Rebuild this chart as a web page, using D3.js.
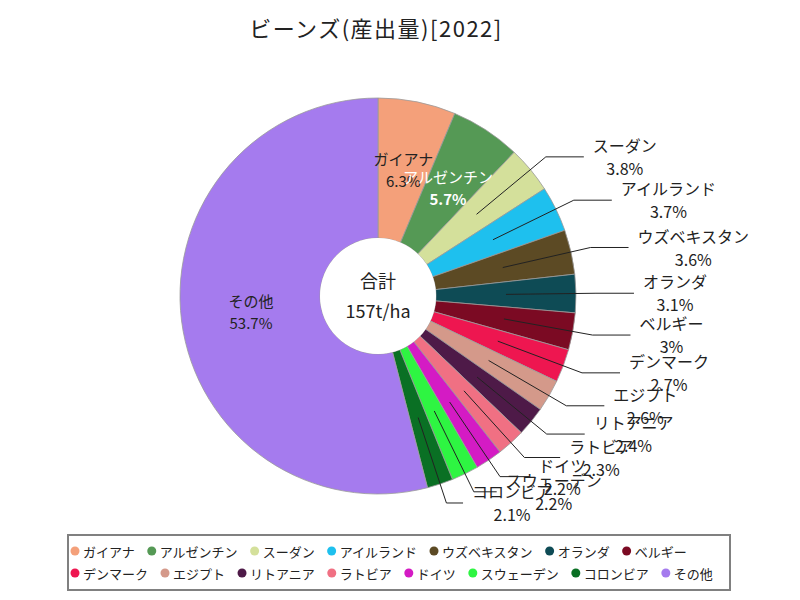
<!DOCTYPE html>
<html><head><meta charset="utf-8">
<script src="https://cdn.jsdelivr.net/npm/d3@7"></script>
<style>body{margin:0;background:#fff} svg{display:block}</style>
</head><body>
<svg id="chart" width="800" height="600"></svg>
<script>
const titleText = "ビーンズ(産出量)[2022]";
const categories = ["ガイアナ","アルゼンチン","スーダン","アイルランド","ウズベキスタン","オランダ","ベルギー","デンマーク","エジプト","リトアニア","ラトビア","ドイツ","スウェーデン","コロンビア","その他"];
const shares = [6.3,5.7,3.8,3.7,3.6,3.1,3,2.7,2.6,2.4,2.3,2.2,2.2,2.1,53.7];
const colors = ["#F4A07A","#559955","#D4E09B","#1EC0EE","#5C4A24","#0E4B55","#7B0A23","#EE1650","#D4998A","#4E1A48","#F07083","#D41BC4","#2EF542","#0A7024","#A57BEE"];
const insideLabels = ["ガイアナ","アルゼンチン","その他"];
const totalLabel = "合計";
const totalValue = "157t/ha";
const legendRowCounts = [7, 8];

const FONT = "'Noto Sans CJK JP','Noto Sans',sans-serif";
const svg = d3.select("#chart");
const W = 800, H = 600;
const cx = 378, cy = 296, R = 198, R0 = 58;

svg.append("rect").attr("width", W).attr("height", H).attr("fill", "#fff");

svg.append("text").attr("x", 376).attr("y", 27)
  .attr("text-anchor", "middle").attr("dominant-baseline", "central")
  .attr("font-family", FONT).attr("font-size", 22).attr("letter-spacing", 1.5)
  .attr("fill", "#222").text(titleText);

const data = categories.map((c, i) => ({name: c, value: shares[i], color: colors[i]}));
const pie = d3.pie().value(d => d.value).sort(null).startAngle(0).endAngle(2 * Math.PI);
const arcs = pie(data);
const arc = d3.arc().innerRadius(R0).outerRadius(R);

const g = svg.append("g").attr("transform", `translate(${cx},${cy})`);
g.selectAll("path.slice").data(arcs).enter().append("path")
  .attr("class", "slice").attr("d", arc)
  .attr("fill", d => d.data.color)
  .attr("stroke", "#9a9a9a").attr("stroke-width", 0.8);

const fmt = v => String(v) + "%";

// outer labels
const outer = arcs.filter(d => !insideLabels.includes(d.data.name));
const lineG = g.append("g");
const textG = g.append("g");
outer.forEach(d => {
  const a = (d.startAngle + d.endAngle) / 2;
  const s = arc.centroid(d);
  const rE = R + 20;
  const e = [rE * Math.sin(a), -rE * Math.cos(a)];
  const deg = a * 180 / Math.PI;
  const dir = Math.sin(a) >= 0 ? 1 : -1;
  const L2 = deg > 135 && deg < 225 ? 38 - (Math.abs(deg - 135)) * 0.8 : 38;
  const end = [e[0] + dir * L2, e[1]];
  lineG.append("polyline")
    .attr("points", [s, e, end].map(p => p.join(",")).join(" "))
    .attr("fill", "none").attr("stroke", "#222").attr("stroke-width", 1);
  const t1 = textG.append("text").attr("y", end[1] - 12)
    .attr("dominant-baseline", "central").attr("text-anchor", "middle")
    .attr("font-family", FONT).attr("font-size", 16).attr("fill", "#222")
    .text(d.data.name);
  const t2 = textG.append("text").attr("y", end[1] + 11)
    .attr("dominant-baseline", "central").attr("text-anchor", "middle")
    .attr("font-family", FONT).attr("font-size", 16).attr("fill", "#222")
    .text(fmt(d.data.value));
  const w = Math.max(t1.node().getComputedTextLength(), t2.node().getComputedTextLength());
  const left = end[0] + dir * 9;
  const mid = dir > 0 ? left + w / 2 : left - w / 2;
  t1.attr("x", mid); t2.attr("x", mid);
});

// inside labels
arcs.filter(d => insideLabels.includes(d.data.name)).forEach(d => {
  const c = arc.centroid(d);
  const col = d3.hsl(d.data.color).l < 0.5 ? "#fff" : "#222";
  textG.append("text").attr("x", c[0]).attr("y", c[1] - 12)
    .attr("text-anchor", "middle").attr("dominant-baseline", "central")
    .attr("font-family", FONT).attr("font-size", 15).attr("fill", col)
    .text(d.data.name);
  textG.append("text").attr("x", c[0]).attr("y", c[1] + 10)
    .attr("text-anchor", "middle").attr("dominant-baseline", "central")
    .attr("font-family", FONT).attr("font-size", 15).attr("fill", col)
    .attr("font-weight", col === "#fff" ? "bold" : "normal")
    .text(fmt(d.data.value));
});

// center
g.append("circle").attr("r", R0).attr("fill", "#fff");
g.append("text").attr("y", -16).attr("text-anchor", "middle").attr("dominant-baseline", "central")
  .attr("font-family", FONT).attr("font-size", 18).attr("fill", "#222").text(totalLabel);
g.append("text").attr("y", 14).attr("text-anchor", "middle").attr("dominant-baseline", "central")
  .attr("font-family", FONT).attr("font-size", 18).attr("fill", "#222").text(totalValue);

// legend
const lg = svg.append("g");
lg.append("rect").attr("x", 68).attr("y", 535).attr("width", 662).attr("height", 55)
  .attr("fill", "#fff").attr("stroke", "#808080").attr("stroke-width", 2);
let idx = 0;
legendRowCounts.forEach((n, row) => {
  let x = 75;
  const y = 551 + row * 22;
  for (let k = 0; k < n; k++, idx++) {
    const d = data[idx];
    lg.append("circle").attr("cx", x).attr("cy", y).attr("r", 4.5).attr("fill", d.color);
    const t = lg.append("text").attr("x", x + 8).attr("y", y)
      .attr("dominant-baseline", "central").attr("font-family", FONT)
      .attr("font-size", 13).attr("fill", "#222").text(d.name);
    x = x + 8 + t.node().getComputedTextLength() + 17;
  }
});
</script>
</body></html>
